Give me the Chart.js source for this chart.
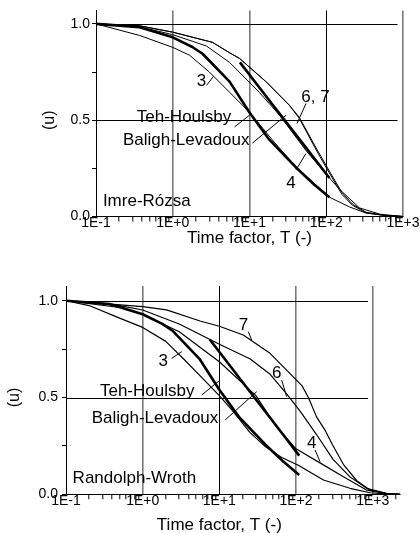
<!DOCTYPE html>
<html><head><meta charset="utf-8">
<script src="https://cdn.jsdelivr.net/npm/chart.js@4.4.1/dist/chart.umd.min.js"></script>
<style>
html,body{margin:0;padding:0;background:#fff;}
#wrap{position:relative;width:420px;height:533px;overflow:hidden;background:#fff;}
#c1{position:absolute;left:0;top:0;}
#c2{position:absolute;left:0;top:260px;}
</style></head><body>
<div id="wrap"><canvas id="c1" width="420" height="260"></canvas><canvas id="c2" width="420" height="273"></canvas></div>
<script>
// ---------- data (time factor T, normalised excess pore pressure u) ----------
// reference solutions, same in both panels
const thT = [0.1, 0.37, 1.0, 1.8, 2.45, 5.5, 10, 18, 40, 70, 110];
const thU = [1.0, 0.983, 0.93, 0.88, 0.845, 0.70, 0.54, 0.40, 0.256, 0.165, 0.10];
const blT = [7.5, 15, 30, 55, 110];
const blU = [0.80, 0.645, 0.49, 0.355, 0.20];

// upper panel: Imre-Rózsa
const ir3T = [0.1, 0.37, 1.0, 1.66, 3.0, 5.5, 10, 21, 41, 110, 200, 330, 600, 1000];
const ir3U = [1.0, 0.94, 0.878, 0.837, 0.75, 0.645, 0.541, 0.386, 0.256, 0.10, 0.05, 0.018, 0.005, 0];
const ir4T = [0.1, 0.37, 1.0, 2.75, 5.5, 13.4, 24.6, 55, 110, 150, 270, 500, 1000];
const ir4U = [1.0, 0.985, 0.944, 0.885, 0.80, 0.645, 0.526, 0.34, 0.20, 0.14, 0.045, 0.012, 0];
const ir6T = [0.1, 0.37, 1.0, 3.3, 5.5, 7.4, 16.7, 33, 44.5, 74, 110, 160, 220, 330, 600, 1000];
const ir6U = [1.0, 0.99, 0.957, 0.904, 0.85, 0.821, 0.697, 0.578, 0.51, 0.345, 0.225, 0.115, 0.058, 0.019, 0.004, 0];
const ir7T = [0.1, 0.37, 1.0, 3.3, 5.5, 7.4, 16.7, 33, 44.5, 74, 110, 160, 220, 330, 600, 1000];
const ir7U = [1.0, 0.99, 0.957, 0.904, 0.85, 0.821, 0.697, 0.578, 0.515, 0.355, 0.235, 0.125, 0.064, 0.022, 0.005, 0];

// lower panel: Randolph-Wroth
const rw3T = [0.1, 0.2, 0.5, 1.0, 2.0, 3.4, 6, 10, 15, 25, 40, 65, 107, 228, 505, 920, 1500, 2300];
const rw3U = [1.0, 0.975, 0.91, 0.862, 0.79, 0.70, 0.60, 0.51, 0.43, 0.32, 0.245, 0.19, 0.15, 0.074, 0.031, 0.008, 0.002, 0];
const rw4T = [0.1, 0.5, 1.0, 3, 10, 30, 55, 100, 200, 415, 830, 1500, 2300];
const rw4U = [1.0, 0.965, 0.93, 0.84, 0.685, 0.51, 0.35, 0.235, 0.165, 0.091, 0.022, 0.004, 0];
const rw6T = [0.1, 0.5, 1.0, 3, 10, 25, 46, 75, 113, 184, 304, 505, 835, 1500, 2300];
const rw6U = [1.0, 0.975, 0.952, 0.88, 0.775, 0.70, 0.62, 0.52, 0.43, 0.31, 0.18, 0.09, 0.031, 0.005, 0];
const rw7T = [0.1, 1.0, 2.05, 5.6, 10, 20.5, 45.8, 83, 120, 145, 185, 240, 300, 414, 620, 920, 1500, 2300];
const rw7U = [1.0, 0.969, 0.953, 0.895, 0.868, 0.823, 0.728, 0.625, 0.56, 0.50, 0.40, 0.33, 0.255, 0.155, 0.07, 0.022, 0.005, 0];

// axis texts
const xTitle = 'Time factor, T (-)';
const yTitle = '(u)';
const yTickValuesLabelled = [0, 0.5, 1.0];

// annotation texts with positions in data units [T, u]
const irLabels = [
  {text: '3', at: [2.36, 0.703], align: 'center', leader: [[2.76, 0.681], [3.4, 0.728]]},
  {text: 'Teh-Houlsby', at: [0.34, 0.513], align: 'left', leader: [[6.38, 0.465], [10, 0.526]]},
  {text: 'Baligh-Levadoux', at: [0.224, 0.393], align: 'left', leader: [[10.9, 0.381], [30, 0.526]]},
  {text: '6, 7', at: [47.3, 0.621], align: 'left', leader: [[54.5, 0.587], [41.6, 0.483]]},
  {text: '4', at: [34.7, 0.172], align: 'center', leader: [[40.3, 0.241], [54.3, 0.327]]},
  {text: 'Imre-Rózsa', at: [0.123, 0.077], align: 'left', leader: null}
];
const rwLabels = [
  {text: '7', at: [20.6, 0.874], align: 'center', leader: [[23.9, 0.84], [26.4, 0.797]]},
  {text: '6', at: [56, 0.625], align: 'center', leader: [[65, 0.59], [75.5, 0.504]]},
  {text: '4', at: [160, 0.263], align: 'center', leader: [[177, 0.229], [206, 0.168]]},
  {text: '3', at: [1.86, 0.685], align: 'center', leader: [[2.39, 0.702], [3.23, 0.737]]},
  {text: 'Teh-Houlsby', at: [0.277, 0.531], align: 'left', leader: [[5.89, 0.513], [10.2, 0.59]]},
  {text: 'Baligh-Levadoux', at: [0.216, 0.394], align: 'left', leader: [[11.9, 0.384], [30.7, 0.53]]},
  {text: 'Randolph-Wroth', at: [0.122, 0.083], align: 'left', leader: null}
];

// ---------- helpers ----------
const FONT = "'Liberation Sans', Arial, Helvetica, sans-serif";
function pts(T, U) { return T.map((t, i) => ({x: t, y: U[i]})); }
function isNice(v) {
  const e = Math.floor(Math.log10(v) + 1e-9);
  const s = v / Math.pow(10, e);
  return Math.abs(s - Math.round(s)) < 1e-6;
}
function isPow10(v) {
  const l = Math.log10(v);
  return Math.abs(l - Math.round(l)) < 1e-6;
}
function expLabel(v) {
  if (!isPow10(v)) return '';
  const e = Math.round(Math.log10(v));
  return '1E' + (e < 0 ? '-' : '+') + Math.abs(e);
}
function line(data, w) {
  return {data: data, borderColor: '#000', backgroundColor: '#000', borderWidth: w,
          pointRadius: 0, tension: 0, fill: false, borderJoinStyle: 'round'};
}

function makeOverlay(cfg) {
  return {
    id: 'overlay',
    beforeDatasetsDraw(chart) {
      const {ctx, scales: {x, y}} = chart;
      ctx.save();
      ctx.strokeStyle = '#000';
      ctx.lineWidth = 1;
      cfg.hGrid.forEach(u => {
        const py = Math.round(y.getPixelForValue(u)) + 0.5;
        ctx.beginPath();
        ctx.moveTo(x.getPixelForValue(cfg.hGridFrom), py);
        ctx.lineTo(x.getPixelForValue(cfg.hGridTo), py);
        ctx.stroke();
      });
      ctx.restore();
    },
    afterDraw(chart) {
      const {ctx, scales: {x, y}} = chart;
      ctx.save();
      ctx.fillStyle = '#000';
      ctx.strokeStyle = '#000';
      ctx.lineWidth = 1;
      ctx.font = cfg.textSize + 'px ' + FONT;
      ctx.textBaseline = 'middle';
      cfg.labels.forEach(l => {
        if (l.leader) {
          ctx.beginPath();
          ctx.moveTo(x.getPixelForValue(l.leader[0][0]), y.getPixelForValue(l.leader[0][1]));
          ctx.lineTo(x.getPixelForValue(l.leader[1][0]), y.getPixelForValue(l.leader[1][1]));
          ctx.stroke();
        }
        ctx.textAlign = l.align;
        ctx.fillText(l.text, x.getPixelForValue(l.at[0]), y.getPixelForValue(l.at[1]));
      });
      // axis titles
      ctx.font = cfg.textSize + 'px ' + FONT;
      ctx.textAlign = 'center';
      const cx = (x.getPixelForValue(cfg.titleFrom) + x.getPixelForValue(cfg.titleTo)) / 2;
      ctx.fillText(xTitle, cx, cfg.xTitleY);
      ctx.save();
      ctx.translate(chart.chartArea.left - cfg.yTitleDx, y.getPixelForValue(0.5));
      ctx.rotate(-Math.PI / 2);
      ctx.font = cfg.yTitleSize + 'px ' + FONT;
      ctx.fillText(yTitle, 0, 0);
      ctx.restore();
      ctx.restore();
    }
  };
}

function makeChart(canvas, datasets, o) {
  return new Chart(canvas, {
    type: 'line',
    data: {datasets: datasets},
    options: {
      responsive: false, animation: false, devicePixelRatio: 1,
      layout: {padding: {left: 0, right: o.padRight, top: o.padTop, bottom: 0}},
      plugins: {legend: {display: false}, tooltip: {enabled: false}},
      scales: {
        x: {
          type: 'logarithmic', min: 0.1, max: o.xMax,
          afterFit: s => { s.height = o.xHeight; },
          afterBuildTicks: s => { s.ticks = s.ticks.filter(t => isNice(t.value)); },
          grid: {
            drawOnChartArea: true, drawTicks: true, tickLength: 5, tickWidth: 1,
            color: c => {
              const v = c.tick ? c.tick.value : 1;
              if (!isPow10(v) || Math.abs(v - 0.1) < 1e-9) return 'rgba(0,0,0,0)';
              return Math.abs(v - o.blackGridAt) < 1e-6 ? '#000' : '#7a7a7a';
            },
            lineWidth: c => {
              const v = c.tick ? c.tick.value : 1;
              return Math.abs(v - o.blackGridAt) < 1e-6 ? 1 : 1.6;
            },
            tickColor: c => {
              const v = c.tick ? c.tick.value : 1;
              return isPow10(v) ? 'rgba(0,0,0,0)' : '#000';
            }
          },
          border: {display: true, color: '#000', width: 1},
          ticks: {autoSkip: false, maxRotation: 0, minRotation: 0, padding: o.xTickPad, color: '#000',
                  font: {family: FONT, size: 14}, callback: v => expLabel(v)}
        },
        y: {
          min: 0, max: o.yMax,
          afterFit: s => { s.width = o.yWidth; },
          grid: {drawOnChartArea: false, drawTicks: true, tickLength: 4, color: '#000'},
          border: {display: true, color: '#000', width: 1},
          ticks: {stepSize: 0.25, includeBounds: false, padding: o.yTickPad, color: '#000',
                  font: {family: FONT, size: 14},
                  callback: v => yTickValuesLabelled.some(t => Math.abs(t - v) < 1e-9) ? v.toFixed(1) : ''}
        }
      }
    },
    plugins: [makeOverlay(o)]
  });
}

makeChart(document.getElementById('c1'), [
  line(pts(ir3T, ir3U), 1),
  line(pts(ir4T, ir4U), 1),
  line(pts(ir6T, ir6U), 1),
  line(pts(ir7T, ir7U), 1),
  line(pts(thT, thU), 2.6),
  line(pts(blT, blU), 2.6)
], {
  padRight: 17, padTop: 10, xMax: 1000, xHeight: 43.5, yWidth: 96, yMax: 1.07,
  xTickPad: -7, yTickPad: 2, blackGridAt: 100,
  hGrid: [0.5, 1.0], hGridFrom: 0.1, hGridTo: 850,
  labels: irLabels, textSize: 17, yTitleSize: 16, yTitleDx: 46, xTitleY: 238.5,
  titleFrom: 0.1, titleTo: 1000
});

makeChart(document.getElementById('c2'), [
  line(pts(rw3T, rw3U), 1.2),
  line(pts(rw4T, rw4U), 1.2),
  line(pts(rw6T, rw6U), 1.2),
  line(pts(rw7T, rw7U), 1.2),
  line(pts(thT, thU), 2.6),
  line(pts(blT, blU), 2.6)
], {
  padRight: 20, padTop: 26, xMax: 2270, xHeight: 38.7, yWidth: 66, yMax: 1.076,
  xTickPad: -7, yTickPad: 4, blackGridAt: 10,
  hGrid: [0.5, 1.0], hGridFrom: 0.1, hGridTo: 870,
  labels: rwLabels, textSize: 17, yTitleSize: 16, yTitleDx: 51, xTitleY: 265,
  titleFrom: 0.1, titleTo: 1000
});
</script>
</body></html>
